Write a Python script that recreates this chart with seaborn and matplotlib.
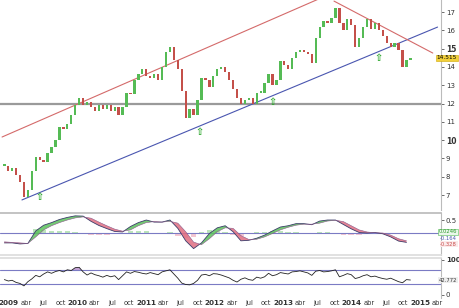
import numpy as np
import pandas as pd
import matplotlib
matplotlib.use("Agg")
import matplotlib.pyplot as plt
import seaborn as sns

# ---------------- data ----------------
start_date = "2008-12-07"   # first bar, bars every 3 weeks
close = [8.6, 8.3, 8.5, 8.1, 7.7, 6.9, 7.3, 8.3, 9.1, 8.9,
         8.8, 9.3, 9.6, 10.0, 10.7, 10.6, 10.9, 11.4, 11.9, 12.3,
         11.9, 12.1, 11.8, 11.6, 11.9, 11.7, 11.9, 11.6, 11.8, 11.4,
         11.8, 12.6, 12.5, 13.3, 13.6, 13.9, 13.5, 13.4, 13.6, 13.3,
         14.0, 14.8, 15.1, 14.4, 13.9, 12.7, 11.2, 11.7, 11.4, 12.2,
         13.4, 13.3, 12.9, 13.5, 13.9, 14.0, 13.7, 13.3, 12.8, 12.3,
         12.0, 12.2, 12.3, 12.0, 12.6, 12.6, 13.1, 13.6, 13.0, 13.3,
         14.3, 14.1, 13.9, 14.5, 14.8, 14.9, 14.8, 14.7, 14.2, 15.6,
         16.2, 16.5, 16.4, 16.7, 17.2, 16.4, 16.0, 16.6, 16.3, 15.1,
         15.6, 16.2, 16.6, 16.1, 16.4, 16.0, 15.7, 15.3, 15.1, 15.3,
         14.9, 14.0, 14.4, 14.5]

rsi = [44, 40, 42, 36, 33, 26, 38, 46, 56, 52,
       60, 66, 62, 67, 70, 66, 72, 70, 78, 79,
       66, 57, 63, 58, 55, 51, 56, 52, 55, 44,
       55, 66, 62, 67, 65, 62, 60, 64, 61, 58,
       66, 69, 72, 60, 48, 34, 30, 29, 33, 42,
       57, 59, 55, 61, 60, 57, 53, 49, 42, 37,
       45, 49, 44, 42, 51, 48, 52, 62, 55, 58,
       64, 62, 60, 66, 67, 69, 66, 63, 56, 68,
       70, 66, 67, 69, 72, 52, 56, 61, 58, 47,
       50, 55, 58, 52, 54, 50, 47, 45, 48, 43,
       38, 35, 44, 42.772]

# MACD sampled every 6 weeks
macd = [-0.38, -0.38, -0.42, -0.40, 0.08, 0.30, 0.40, 0.52, 0.60, 0.66,
        0.65, 0.45, 0.29, 0.17, 0.06, 0.04, 0.25, 0.40, 0.50, 0.42,
        0.42, 0.50, 0.18, -0.30, -0.60, -0.38, -0.02, 0.20, 0.28, 0.05,
        -0.30, -0.28, -0.20, -0.08, 0.08, 0.23, 0.28, 0.36, 0.36, 0.32,
        0.46, 0.50, 0.50, 0.33, 0.16, 0.02, 0.00, 0.02, -0.03, -0.15,
        -0.31, -0.36]
signal = [-0.34, -0.36, -0.38, -0.40, -0.15, 0.12, 0.28, 0.40, 0.50, 0.58,
          0.62, 0.57, 0.42, 0.28, 0.15, 0.07, 0.12, 0.28, 0.40, 0.44,
          0.42, 0.45, 0.38, 0.05, -0.35, -0.45, -0.22, 0.05, 0.20, 0.18,
          -0.10, -0.25, -0.24, -0.15, -0.02, 0.12, 0.22, 0.30, 0.34, 0.34,
          0.38, 0.46, 0.49, 0.44, 0.28, 0.12, 0.04, 0.01, 0.00, -0.08,
          -0.22, -0.30]

# trend lines (decimal year, price)
upper_channel_t = [2008.90, 2013.55]
upper_channel_p = [10.17, 17.77]
lower_channel_t = [2009.19, 2015.25]
lower_channel_p = [6.73, 16.18]
down_line_t = [2013.74, 2015.18]
down_line_p = [17.60, 14.76]
support_level = 12

arrow_t = [2009.44, 2011.78, 2012.85, 2014.39]
arrow_p = [6.89, 10.44, 12.08, 14.49]

price_ticks = [7, 8, 9, 10, 11, 12, 13, 14, 15, 16, 17]
years = [2009, 2010, 2011, 2012, 2013, 2014, 2015]
month_labels = ["abr", "jul", "oct"]
last_price_label = "14.515"
macd_labels = ["0.0246", "-0.164", "-0.328"]
rsi_label = "42.772"

# ---------------- style ----------------
sns.set_theme(style="white")
plt.rcParams["font.family"] = ["DejaVu Sans"]

def dec_year(idx):
    return np.asarray(idx.year + (idx.dayofyear - 1) / 365.25, dtype=float)

t = dec_year(pd.date_range(start_date, periods=len(close), freq="3W"))
tm = dec_year(pd.date_range(start_date, periods=len(macd), freq="6W"))

GREEN = "#55bb55"
RED = "#c4504a"
BLUE = "#4a56b0"
LINE_RED = "#d46a6a"
PURPLE_LINE = "#7b7bc4"
SPINE = "#bbbbbb"
TXT = "#333333"

fig = plt.figure(figsize=(4.6, 3.08), dpi=100)
W = 441 / 460
ax_p = fig.add_axes([0, 1 - 210 / 308, W, 210 / 308])
ax_m = fig.add_axes([0, 1 - 255 / 308, W, 42 / 308])
ax_r = fig.add_axes([0, 1 - 298 / 308, W, 40 / 308])

XL = (2008.87, 2015.30)
for ax in (ax_p, ax_m, ax_r):
    ax.set_xlim(*XL)
    ax.set_facecolor("white")
    for s in ("left", "top", "bottom"):
        ax.spines[s].set_visible(False)
    ax.spines["right"].set_color(SPINE)
    ax.spines["right"].set_linewidth(0.8)
    ax.yaxis.tick_right()
    ax.tick_params(axis="y", labelsize=5, colors=TXT, length=2, width=0.5, pad=1.5)
    ax.tick_params(axis="x", length=0)
    ax.set_xticks([])


def right_label(ax, frac, text, size, color, bbox=None):
    """Value tag at the right edge of the figure, vertically at axes fraction."""
    ax.annotate(text, xy=(0, frac), xycoords=("figure fraction", "axes fraction"),
                xytext=(457 / 460, frac), textcoords=("figure fraction", "axes fraction"),
                fontsize=size, color=color, va="center", ha="right",
                bbox=bbox, annotation_clip=False)


# ---------------- price panel ----------------
PY = (6.18, 17.66)
ax_p.set_ylim(*PY)
df = pd.DataFrame({"t": t, "close": close})
df["open"] = df["close"].shift(1).fillna(df["close"].iloc[0])
df["bottom"] = df[["open", "close"]].min(axis=1)
df["height"] = (df["close"] - df["open"]).abs().clip(lower=0.07)
df["up"] = df["close"] >= df["open"]
ax_p.axhline(support_level, color="#9a9a9a", lw=1.6, zorder=1)
ax_p.bar(df["t"], df["height"], bottom=df["bottom"], width=0.034,
         color=np.where(df["up"], GREEN, RED), linewidth=0, zorder=3)
ax_p.plot(upper_channel_t, upper_channel_p, color=LINE_RED, lw=0.8, zorder=2)
ax_p.plot(lower_channel_t, lower_channel_p, color=BLUE, lw=0.8, zorder=2)
ax_p.plot(down_line_t, down_line_p, color=LINE_RED, lw=0.8, zorder=2)
for at, ap in zip(arrow_t, arrow_p):
    ax_p.text(at, ap, "\u21e7", color="#2ea82e", fontsize=7, fontweight="bold",
              ha="center", va="center", zorder=4)
ax_p.set_yticks(price_ticks)
ax_p.set_yticklabels([str(v) for v in price_ticks])
for lbl, v in zip(ax_p.get_yticklabels(), price_ticks):
    if v in (10, 15):
        lbl.set_fontweight("bold")
        lbl.set_fontsize(5.5)
right_label(ax_p, (close[-1] - PY[0]) / (PY[1] - PY[0]), last_price_label, 4.2, "black",
            dict(boxstyle="square,pad=0.12", fc="#f2d03b", ec="#d0a800", lw=0.4))

# ---------------- MACD panel ----------------
MY = (-0.846, 0.77)
ax_m.set_ylim(*MY)
ax_m.spines["top"].set_visible(True)
ax_m.spines["top"].set_color(SPINE)
ax_m.spines["bottom"].set_visible(True)
ax_m.spines["bottom"].set_color("#dddddd")
hist = np.array(macd) - np.array(signal)
ax_m.bar(tm, hist * 0.6, width=0.08, color=np.where(hist >= 0, "#9edb9e", "#f0b0c0"),
         linewidth=0, alpha=0.7, zorder=1)
ax_m.axhline(0, color=PURPLE_LINE, lw=0.8, zorder=2)
m = np.array(macd)
sg = np.array(signal)
ax_m.fill_between(tm, m, sg, where=m >= sg, interpolate=True, color="#5cc25c", alpha=0.85, lw=0, zorder=3)
ax_m.fill_between(tm, m, sg, where=m < sg, interpolate=True, color="#e06d80", alpha=0.85, lw=0, zorder=3)
mdf = pd.DataFrame({"t": tm, "macd": macd, "signal": signal})
sns.lineplot(data=mdf, x="t", y="macd", ax=ax_m, color="#3c3c6a", lw=0.6, zorder=4)
sns.lineplot(data=mdf, x="t", y="signal", ax=ax_m, color="#8a5a8a", lw=0.4, zorder=4)
ax_m.set_xlabel("")
ax_m.set_ylabel("")
ax_m.set_xticks([])
ax_m.set_yticks([0.5])
ax_m.set_yticklabels(["0.5"])
span = MY[1] - MY[0]
right_label(ax_m, (0.05 - MY[0]) / span, macd_labels[0], 3.8, "#2e9a2e",
            dict(boxstyle="square,pad=0.1", fc="#eaf7ea", ec="#55bb55", lw=0.4))
right_label(ax_m, (-0.20 - MY[0]) / span, macd_labels[1], 3.8, "#4a56b0")
right_label(ax_m, (-0.44 - MY[0]) / span, macd_labels[2], 3.8, "#c84a4a",
            dict(boxstyle="square,pad=0.1", fc="#fbeaea", ec="none"))

# ---------------- RSI panel ----------------
RY = (-8.6, 105.7)
ax_r.set_ylim(*RY)
ax_r.spines["top"].set_visible(True)
ax_r.spines["top"].set_color("#dddddd")
ax_r.axhline(70, color=PURPLE_LINE, lw=0.8)
ax_r.axhline(30, color=PURPLE_LINE, lw=0.8)
r = np.array(rsi, dtype=float)
ax_r.fill_between(t, r, 70, where=r > 70, interpolate=True, color="#b58ac8", alpha=0.8, lw=0)
rdf = pd.DataFrame({"t": t, "rsi": rsi})
sns.lineplot(data=rdf, x="t", y="rsi", ax=ax_r, color="#222222", lw=0.6)
ax_r.set_xlabel("")
ax_r.set_ylabel("")
ax_r.set_yticks([100, 0])
ax_r.set_yticklabels(["100", "0"])
ax_r.get_yticklabels()[0].set_fontweight("bold")
right_label(ax_r, (rsi[-1] - RY[0]) / (RY[1] - RY[0]), rsi_label, 3.8, "#333333",
            dict(boxstyle="square,pad=0.1", fc="#eeeeee", ec="none"))

# x ticks
xt, xl = [], []
for y in years:
    xt.append(y); xl.append(str(y))
    for q, ml in zip((0.25, 0.5, 0.75), month_labels):
        if y + q < XL[1]:
            xt.append(y + q); xl.append(ml)
ax_r.set_xticks(xt)
ax_r.set_xticklabels(xl)
ax_r.tick_params(axis="x", labelsize=4.8, colors=TXT, length=0, pad=1.5)
for lbl in ax_r.get_xticklabels():
    if lbl.get_text().isdigit():
        lbl.set_fontweight("bold")
        lbl.set_fontsize(5.2)
ax_r.set_xlim(*XL)

fig.savefig("out.png", dpi=100)
